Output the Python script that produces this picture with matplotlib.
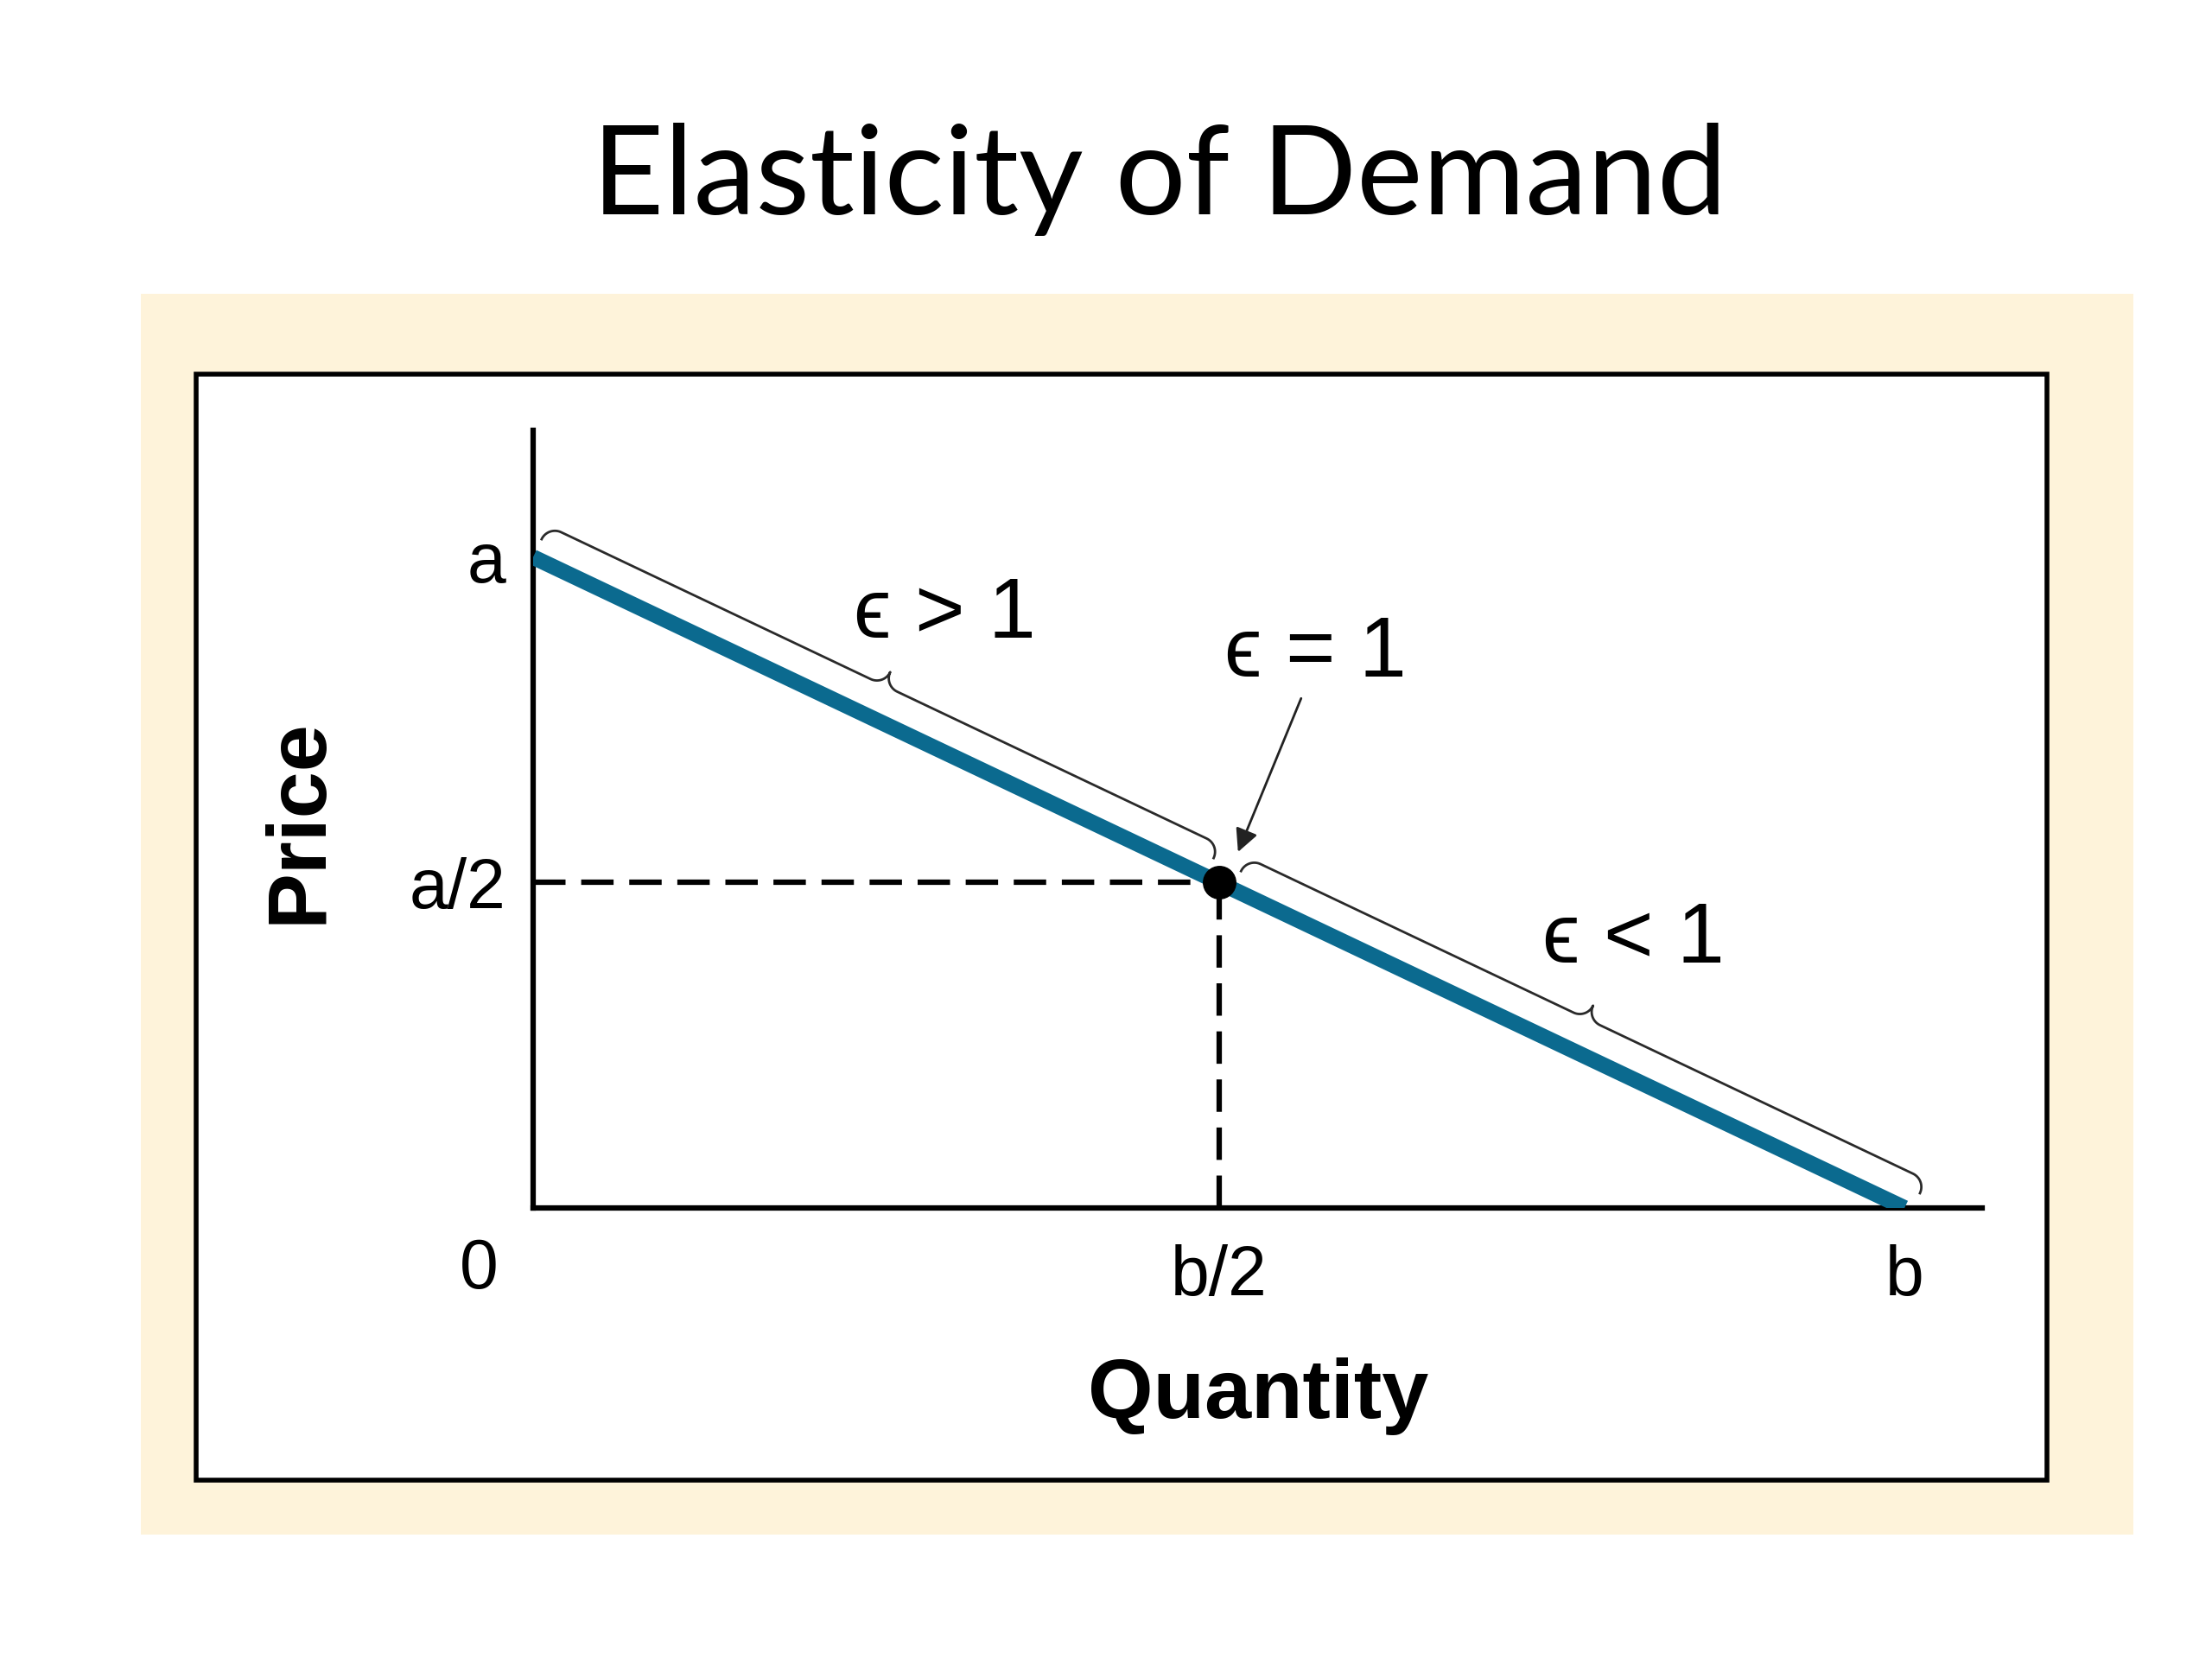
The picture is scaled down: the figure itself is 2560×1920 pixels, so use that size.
import numpy as np
import matplotlib
matplotlib.use('Agg')
import matplotlib.pyplot as plt
from matplotlib.patches import Rectangle

# линейный спрос P = a - (a/b) Q, пересечения нормированы к 1
a = 1.0
b = 1.0
demand_q = [0.0, b]
demand_p = [a, 0.0]
mid_q = b / 2
mid_p = a / 2

y_ticks = [a / 2, a]
y_tick_labels = ['a/2', 'a']
x_ticks = [b / 2, b]
x_tick_labels = ['b/2', 'b']

# участки линии спроса под фигурными скобками
brace_ranges = [(0.0, 0.49), (0.51, 1.005)]
brace_labels = ['\u03f5 > 1', '\u03f5 < 1']
unit_label = '\u03f5 = 1'

blue = '#0b6a8f'
cream = '#fef3da'
sans = ['Liberation Sans', 'DejaVu Sans']

fig = plt.figure(figsize=(25.6, 19.2), dpi=100)
fig.patch.set_facecolor('white')

# кремовая подложка и чёрная рамка
fig.patches.append(Rectangle((0.0637, 0.075), 0.9008, 0.7479, transform=fig.transFigure,
                             facecolor=cream, edgecolor='none', zorder=-2))
fig.patches.append(Rectangle((0.0887, 0.1078), 0.8367, 0.6667, transform=fig.transFigure,
                             facecolor='white', edgecolor='black', lw=4, zorder=-1))

fig.text(0.524, 0.8708, 'Elasticity of Demand', ha='center', va='baseline',
         fontsize=104, family=['Lato', 'DejaVu Sans'])

ax = fig.add_axes([0.2410, 0.2719, 0.6551, 0.46875])
ax.set_facecolor('none')
ax.set_xlim(0, 1.0566 * b)
ax.set_ylim(0, 1.195 * a)
for s in ['top', 'right']:
    ax.spines[s].set_visible(False)
for s in ['left', 'bottom']:
    ax.spines[s].set_linewidth(4.5)

ax.set_xticks(x_ticks)
ax.set_xticklabels(x_tick_labels, family=sans, fontsize=58)
ax.set_yticks(y_ticks)
ax.set_yticklabels(y_tick_labels, family=sans, fontsize=58)
ax.tick_params(axis='x', length=0, pad=30)
ax.tick_params(axis='y', length=0, pad=23)
ax.annotate('0', xy=(0, 0), xytext=(-45, -52), textcoords='offset points',
            ha='center', va='center', fontsize=58, family=sans)

# пунктир к точке единичной эластичности
ax.plot([0, mid_q], [mid_p, mid_p], color='black', lw=4.5, dashes=(6, 2.9), zorder=2)
ax.plot([mid_q, mid_q], [0, mid_p], color='black', lw=4.5, dashes=(6, 2.9), zorder=2)

# линия спроса
ax.plot(demand_q, demand_p, color=blue, lw=13, solid_capstyle='butt', zorder=3)
ax.plot(mid_q, mid_p, 'o', color='black', ms=27, zorder=4)


def price_at(q):
    return a - a / b * q


def brace(q0, q1, base=23, r=17):
    # скобка строится в пикселях, перпендикулярно линии спроса, потом обратно в данные
    p0 = ax.transData.transform((q0, price_at(q0)))
    p1 = ax.transData.transform((q1, price_at(q1)))
    d = p1 - p0
    L = np.hypot(*d)
    t = d / L
    n = np.array([-t[1], t[0]])
    if n[1] < 0:
        n = -n
    th1 = np.linspace(np.pi, np.pi / 2, 20)
    th2 = np.linspace(-np.pi / 2, 0, 20)
    u = np.concatenate([r + r * np.cos(th1), [L / 2 - r], L / 2 - r + r * np.cos(th2)])
    v = np.concatenate([r * np.sin(th1), [r], 2 * r + r * np.sin(th2)])
    u = np.concatenate([u, L - u[::-1]])
    v = np.concatenate([v, v[::-1]])
    pts = p0 + np.outer(u, t) + np.outer(v + base, n)
    data = ax.transData.inverted().transform(pts)
    ax.plot(data[:, 0], data[:, 1], color='#2a2a2a', lw=2, zorder=3, clip_on=False)


for q0, q1 in brace_ranges:
    brace(q0, q1)

ax.text(0.2335, 0.876, brace_labels[0], ha='left', va='baseline', fontsize=71, family=sans)
ax.text(0.7356, 0.377, brace_labels[1], ha='left', va='baseline', fontsize=71, family=sans)
ax.text(0.504, 0.816, unit_label, ha='left', va='baseline', fontsize=71, family=sans)
ax.annotate('', xy=(0.514, 0.547), xytext=(0.560, 0.783),
            arrowprops=dict(arrowstyle='-|>', color='#222222', lw=2, mutation_scale=40,
                            shrinkA=0, shrinkB=0))

fig.text(0.1352, 0.505, 'Price', rotation=90, ha='center', va='center',
         fontsize=70, fontweight='bold', family=sans)
fig.text(0.569, 0.1453, 'Quantity', ha='center', va='baseline',
         fontsize=70, fontweight='bold', family=sans)

plt.savefig('out.png', dpi=100)
